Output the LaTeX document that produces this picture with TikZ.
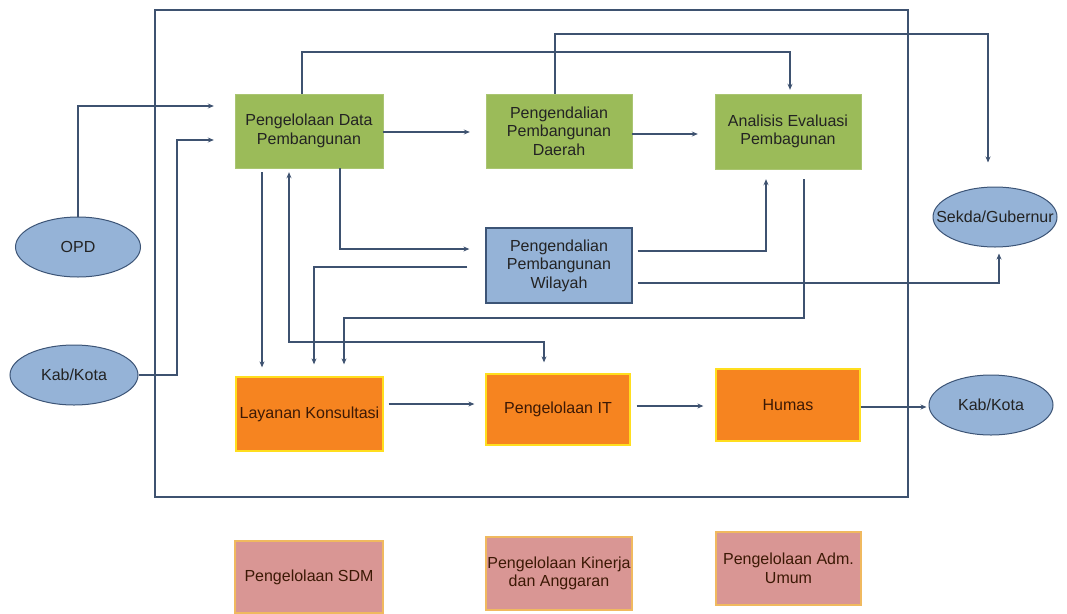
\documentclass[tikz,border=0pt]{standalone}
\usepackage{fontspec}
\setmainfont{Liberation Sans}
\usetikzlibrary{arrows.meta,calc,positioning,shapes.geometric}
\definecolor{linec}{RGB}{62,82,112}
\definecolor{greenc}{RGB}{155,187,89}
\definecolor{bluec}{RGB}{149,179,215}
\definecolor{bluedc}{RGB}{60,84,118}
\definecolor{orangec}{RGB}{246,132,32}
\definecolor{yellowc}{RGB}{255,222,30}
\definecolor{pinkc}{RGB}{217,150,148}
\definecolor{pinkdc}{RGB}{240,185,95}
\definecolor{textc}{RGB}{35,35,35}
\definecolor{browntc}{RGB}{60,25,5}

\begin{document}
\begin{tikzpicture}[
  x=1pt, y=-1pt,
  every node/.style={font=\fontsize{16pt}{18.5pt}\selectfont, text=textc, align=center, inner sep=1pt},
  greenbox/.style={draw=greenc!85!white, fill=greenc, minimum width=148pt, minimum height=74pt},
  bluebox/.style={draw=bluedc, line width=1.3pt, fill=bluec, minimum width=146pt, minimum height=75pt},
  orangebox/.style={draw=yellowc, line width=1.3pt, fill=orangec, text=browntc, minimum width=146pt, minimum height=73pt},
  pinkbox/.style={draw=pinkdc, line width=1.3pt, fill=pinkc, text=browntc, minimum width=146pt, minimum height=73pt},
  actor/.style={ellipse, draw=bluedc, line width=1pt, fill=bluec, minimum width=125pt, minimum height=60pt, inner sep=0pt},
  flow/.style={-{Stealth[length=6pt,width=5pt]}, line width=1.3pt, linec},
]
\useasboundingbox (0,0) rectangle (1067,613);

% outer frame
\draw[line width=1.3pt, linec] (155,10) rectangle (908,497);

% top row
\node[greenbox] (pdp) at (309,131) {Pengelolaan Data\\Pembangunan};
\node[greenbox, minimum width=146pt] (ppd) at (559,131) {Pengendalian\\Pembangunan\\Daerah};
\node[greenbox, minimum width=146pt, minimum height=75pt] (aep) at (788,131.5) {Analisis Evaluasi\\Pembagunan};

% middle
\node[bluebox] (ppw) at (559,265.5) {Pengendalian\\Pembangunan\\Wilayah};

% service row
\node[orangebox, minimum width=147pt, minimum height=74pt] (lk) at (309.5,414) {Layanan Konsultasi};
\node[orangebox, minimum width=144pt, minimum height=71pt] (pit) at (558,409.5) {Pengelolaan IT};
\node[orangebox, minimum width=144pt, minimum height=72pt] (humas) at (788,405) {Humas};

% support row
\node[pinkbox, minimum width=148pt, minimum height=72pt] (sdm) at (309,577) {Pengelolaan SDM};
\node[pinkbox] (kinerja) at (559,573.5) {Pengelolaan Kinerja\\dan Anggaran};
\node[pinkbox, minimum width=145pt] (adm) at (788.5,568.5) {Pengelolaan Adm.\\Umum};

% actors
\node[actor] (opd) at (78,247) {OPD};
\node[actor, minimum width=128pt] (kabkiri) at (74,375) {Kab/Kota};
\node[actor, minimum width=124pt, inner xsep=-15pt] (sekda) at (995,217) {Sekda/Gubernur};
\node[actor, minimum width=124pt] (kabkanan) at (991,405) {Kab/Kota};

% inputs
\draw[flow, shorten >=21pt] (opd.north) |- ([yshift=25pt]pdp.west);
\draw[flow, shorten >=21pt] (kabkiri.east) -| (177,140) -- ([yshift=-9pt]pdp.west);

% top lines
\draw[flow, shorten >=4pt] ([xshift=-7pt]pdp.north) |- (790,52) -- ([xshift=2pt]aep.north);
\draw[flow, shorten >=24pt] ([xshift=-4pt]ppd.north) |- (988,34) -- ([xshift=-7pt]sekda.north);

% top row links
\draw[flow, shorten >=16pt] ([yshift=-1pt]pdp.east) -- ([yshift=-1pt]ppd.west);
\draw[flow, shorten >=17pt] ([yshift=-3pt]ppd.east) -- ([yshift=-2.5pt]aep.west);

% to and from wilayah
\draw[flow, shorten >=16pt] ([xshift=31pt]pdp.south) |- ([yshift=16.5pt]ppw.west);
\draw[flow, shorten <=18pt, shorten >=12pt] ([yshift=-1.5pt]ppw.west) -| ([xshift=4.5pt]lk.north);
\draw[flow, shorten <=5pt, shorten >=10pt] ([yshift=14.5pt]ppw.east) -| ([xshift=-22pt]aep.south);
\draw[flow, shorten <=5pt, shorten >=6pt] ([yshift=-17.5pt]ppw.east) -| ([xshift=4pt]sekda.south);

% down to konsultasi
\draw[flow, shorten <=10pt, shorten >=12pt] ([xshift=16pt]aep.south) |- (344,318) -- ([xshift=34.5pt]lk.north);
\draw[flow, shorten <=4pt, shorten >=9pt] ([xshift=-47pt]pdp.south) -- ([xshift=-47.5pt]lk.north);
\draw[flow, {Stealth[length=6pt,width=5pt]}-{Stealth[length=6pt,width=5pt]}, shorten <=4pt, shorten >=11pt]
  ([xshift=-20pt]pdp.south) |- (544,342) -- ([xshift=-14pt]pit.north);

% service row links
\draw[flow, shorten <=5pt, shorten >=11pt] ([yshift=10pt]lk.east) -- ([yshift=5.5pt]pit.west);
\draw[flow, shorten <=6pt, shorten >=12pt] ([yshift=3.5pt]pit.east) -- ([yshift=-1pt]humas.west);
\draw[flow, shorten >=2pt] ([yshift=-2pt]humas.east) -- ([yshift=-2pt]kabkanan.west);

\end{tikzpicture}
\end{document}
